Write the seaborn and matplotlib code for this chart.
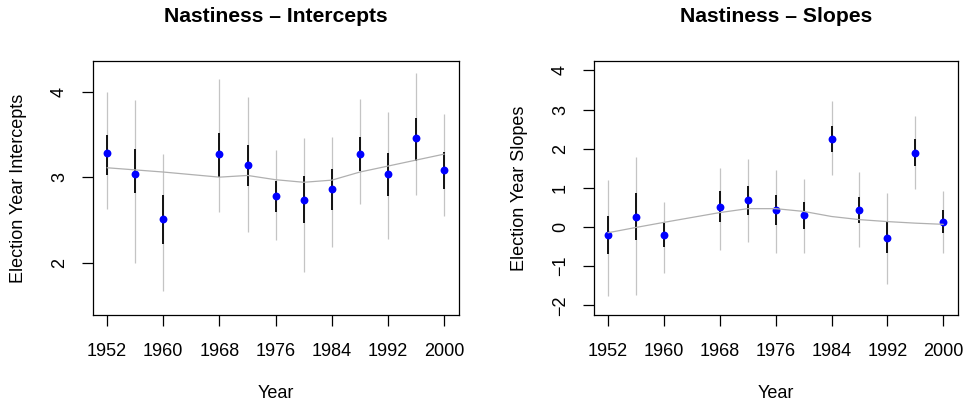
import numpy as np
import pandas as pd
import matplotlib
matplotlib.use("Agg")
import matplotlib.pyplot as plt
import seaborn as sns

years = [1952, 1956, 1960, 1968, 1972, 1976, 1980, 1984, 1988, 1992, 1996, 2000]
x_ticks = [1952, 1960, 1968, 1976, 1984, 1992, 2000]

# Intercepts
int_est = [3.28, 3.04, 2.51, 3.27, 3.14, 2.78, 2.73, 2.86, 3.27, 3.04, 3.46, 3.08]
int_in_hi = [3.49, 3.33, 2.79, 3.52, 3.38, 2.96, 3.01, 3.10, 3.47, 3.28, 3.69, 3.29]
int_in_lo = [3.03, 2.82, 2.22, 3.00, 2.90, 2.59, 2.46, 2.62, 3.07, 2.78, 3.19, 2.86]
int_out_hi = [4.00, 3.90, 3.27, 4.15, 3.94, 3.32, 3.46, 3.47, 3.91, 3.76, 4.22, 3.74]
int_out_lo = [2.63, 1.99, 1.67, 2.59, 2.36, 2.27, 1.89, 2.18, 2.68, 2.28, 2.79, 2.54]
int_trend = [3.11, 3.085, 3.06, 3.00, 3.02, 2.97, 2.94, 2.965, 3.06, 3.13, 3.20, 3.27]

# Slopes
slp_est = [-0.21, 0.25, -0.20, 0.52, 0.68, 0.44, 0.30, 2.25, 0.44, -0.28, 1.90, 0.14]
slp_in_hi = [0.29, 0.88, 0.10, 0.91, 1.05, 0.82, 0.65, 2.59, 0.78, 0.13, 2.24, 0.43]
slp_in_lo = [-0.68, -0.32, -0.52, 0.13, 0.31, 0.06, -0.04, 1.91, 0.10, -0.66, 1.56, -0.14]
slp_out_hi = [1.19, 1.79, 0.64, 1.50, 1.74, 1.45, 1.24, 3.23, 1.41, 0.87, 2.83, 0.93]
slp_out_lo = [-1.77, -1.74, -1.18, -0.58, -0.37, -0.65, -0.65, 1.34, -0.51, -1.45, 0.98, -0.66]
slp_trend = [-0.145, -0.01, 0.12, 0.37, 0.47, 0.47, 0.40, 0.27, 0.19, 0.14, 0.10, 0.07]

sns.set_style("ticks")
plt.rcParams["font.family"] = ["Liberation Sans", "DejaVu Sans"]
plt.rcParams["text.color"] = "black"
plt.rcParams["axes.labelcolor"] = "black"
plt.rcParams["xtick.color"] = "black"
plt.rcParams["ytick.color"] = "black"

W, H = 966, 404
fig = plt.figure(figsize=(W / 100, H / 100), dpi=100)


def px_axes(x0, x1, y0, y1):
    return fig.add_axes([x0 / W, 1 - y1 / H, (x1 - x0) / W, (y1 - y0) / H])


ax1 = px_axes(93, 459, 61, 315)
ax2 = px_axes(594, 958, 61, 315)


def panel(ax, est, ihi, ilo, ohi, olo, trend, title, ylabel, ylim, yticks, xpx_axes):
    df = pd.DataFrame({"Year": years, "est": est, "trend": trend})
    ax.vlines(years, olo, ohi, color="#c4c4c4", lw=0.9, zorder=1)
    ax.vlines(years, ilo, ihi, color="#111111", lw=1.4, zorder=2)
    sns.scatterplot(data=df, x="Year", y="est", ax=ax, color="#0000ff",
                    s=32, linewidth=0, zorder=3)
    sns.lineplot(data=df, x="Year", y="trend", ax=ax, color="#b0b0b0",
                 lw=0.9, zorder=4)
    ax.set_xlim(1950.0, 2002.1)
    ax.set_ylim(*ylim)
    ax.set_xticks(x_ticks)
    ax.set_xticklabels([str(t) for t in x_ticks])
    ax.set_yticks(yticks)
    ax.set_yticklabels([str(t).replace("-", "\u2212") for t in yticks])
    for s in ax.spines.values():
        s.set_visible(True)
        s.set_color("black")
        s.set_linewidth(0.9)
    ax.tick_params(axis="both", direction="out", length=7.6, width=0.9,
                   color="black", labelsize=13, labelcolor="black")
    ax.tick_params(axis="x", pad=12.5)
    ax.tick_params(axis="y", pad=10.5)
    for lab in ax.get_yticklabels():
        lab.set_rotation(90)
        lab.set_va("center")
        lab.set_ha("right")
    ax.set_xlabel("Year", fontsize=13, color="black")
    ax.set_ylabel(ylabel, fontsize=13, color="black")
    ax.xaxis.label.set_va("center")
    ax.yaxis.label.set_va("center")
    ax.xaxis.set_label_coords(0.5, (315 - 393) / 254)
    ax.yaxis.set_label_coords(xpx_axes, 0.5)
    ax.text(0.5, (315 - 16.7) / 254, title, transform=ax.transAxes,
            ha="center", va="center", fontsize=15.2, fontweight="bold",
            color="black")


panel(ax1, int_est, int_in_hi, int_in_lo, int_out_hi, int_out_lo, int_trend,
      "Nastiness \u2013 Intercepts", "Election Year Intercepts",
      (1.386, 4.36), [2, 3, 4], (19 - 93) / 366)
panel(ax2, slp_est, slp_in_hi, slp_in_lo, slp_out_hi, slp_out_lo, slp_trend,
      "Nastiness \u2013 Slopes", "Election Year Slopes",
      (-2.245, 4.24), [-2, -1, 0, 1, 2, 3, 4], (519 - 594) / 364)

fig.savefig("out.png", dpi=100)
